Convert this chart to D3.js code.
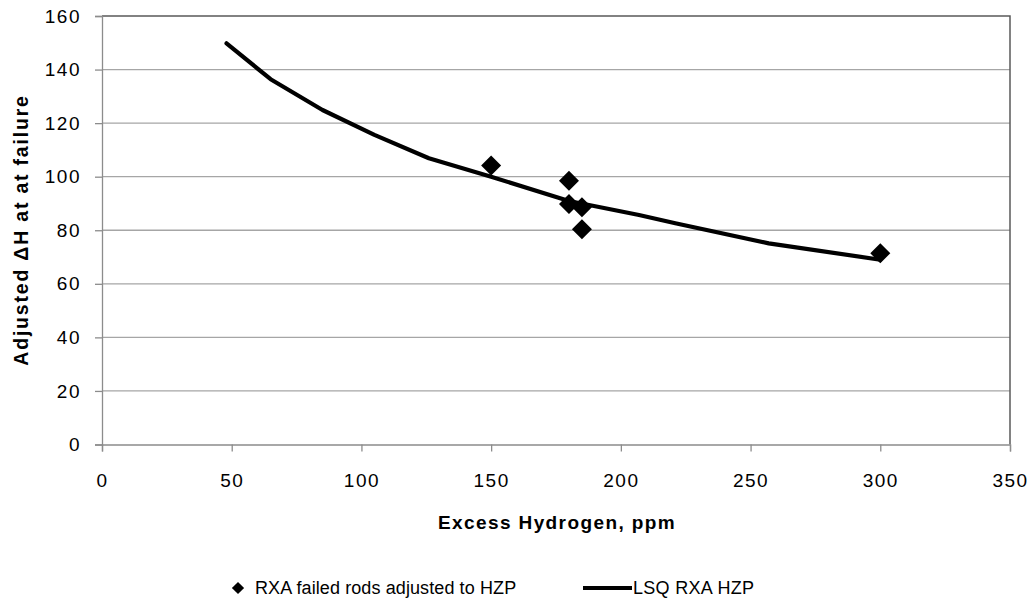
<!DOCTYPE html>
<html>
<head>
<meta charset="utf-8">
<script src="https://cdn.jsdelivr.net/npm/d3@7"></script>
<style>
  html, body { margin: 0; padding: 0; background: #fff; }
  svg { display: block; }
  text { font-family: "Liberation Sans", Arial, sans-serif; fill: #000; }
</style>
</head>
<body>
<svg id="chart" width="1034" height="603"></svg>
<script>
// Failed rods (excess hydrogen, ppm vs adjusted ΔH at failure)
const rodH2 = [150, 180, 180, 185, 185, 300];
const rodDH = [104.2, 98.5, 89.8, 88.6, 80.4, 71.4];

// Least-squares fit curve
const fitH2 = [48, 65, 85, 105, 126, 150, 180, 207, 221, 257, 300];
const fitDH = [149.8, 136.4, 124.9, 115.6, 106.9, 100.0, 90.9, 85.7, 82.6, 75.1, 69.0];

const xTicks = [0, 50, 100, 150, 200, 250, 300, 350];
const yTicks = [0, 20, 40, 60, 80, 100, 120, 140, 160];

const xTitle = "Excess Hydrogen, ppm";
const yTitle = "Adjusted \u0394H at at failure";
const legendNames = ["RXA failed rods adjusted to HZP", "LSQ RXA HZP"];

const svg = d3.select("#chart");
const plotL = 102, plotR = 1010, plotT = 16, plotB = 444.5;

const x = d3.scaleLinear().domain([0, 350]).range([plotL, plotR]);
const y = d3.scaleLinear().domain([0, 160]).range([plotB, plotT]);

// horizontal gridlines
svg.append("g").selectAll("line")
  .data(yTicks.filter(v => v > 0 && v < 160))
  .join("line")
  .attr("x1", plotL).attr("x2", plotR)
  .attr("y1", d => y(d)).attr("y2", d => y(d))
  .attr("stroke", "#a6a6a6").attr("stroke-width", 1.3);

// plot frame (top and right)
svg.append("path")
  .attr("d", `M${plotL},${plotT}H${plotR}V${plotB}`)
  .attr("fill", "none").attr("stroke", "#595959").attr("stroke-width", 1.5);

// axes
const xAxis = svg.append("g")
  .attr("transform", `translate(0,${plotB})`)
  .call(d3.axisBottom(x).tickValues(xTicks).tickSize(7).tickPadding(22));
const yAxis = svg.append("g")
  .attr("transform", `translate(${plotL},0)`)
  .call(d3.axisLeft(y).tickValues(yTicks).tickSize(7).tickPadding(14));

[xAxis, yAxis].forEach(g => {
  g.select(".domain").attr("stroke", "#8c8c8c").attr("stroke-width", 1.3);
  g.selectAll(".tick line").attr("stroke", "#8c8c8c").attr("stroke-width", 1.3);
  g.selectAll(".tick text")
    .attr("font-family", "Liberation Sans, Arial, sans-serif")
    .attr("font-size", 19).attr("fill", "#000")
    .attr("letter-spacing", 1.5);
});

// fit curve
const fitPts = fitH2.map((h, i) => [h, fitDH[i]]);
svg.append("path")
  .datum(fitPts)
  .attr("d", d3.line().x(d => x(d[0])).y(d => y(d[1])).curve(d3.curveLinear))
  .attr("fill", "none").attr("stroke", "#000")
  .attr("stroke-width", 4.2).attr("stroke-linejoin", "round").attr("stroke-linecap", "round");

// diamond markers
const diamond = d3.symbol(d3.symbolSquare, 200);
svg.append("g").selectAll("path")
  .data(rodH2.map((h, i) => [h, rodDH[i]]))
  .join("path")
  .attr("d", diamond)
  .attr("transform", d => `translate(${x(d[0])},${y(d[1])}) rotate(45)`)
  .attr("fill", "#000");

// axis titles
svg.append("text")
  .attr("x", 557).attr("y", 529)
  .attr("text-anchor", "middle")
  .attr("font-size", 19).attr("font-weight", "bold")
  .attr("letter-spacing", 1.4)
  .text(xTitle);

svg.append("text")
  .attr("transform", `translate(28,230) rotate(-90)`)
  .attr("text-anchor", "middle")
  .attr("font-size", 19.5).attr("font-weight", "bold")
  .attr("letter-spacing", 1.8)
  .text(yTitle);

// legend
const ly = 588;
svg.append("path")
  .attr("d", d3.symbol(d3.symbolSquare, 75))
  .attr("transform", `translate(238,${ly}) rotate(45)`)
  .attr("fill", "#000");
svg.append("text")
  .attr("x", 255).attr("y", ly).attr("dy", "0.36em")
  .attr("font-size", 18).attr("letter-spacing", 0.1)
  .text(legendNames[0]);
svg.append("line")
  .attr("x1", 583).attr("x2", 632).attr("y1", ly).attr("y2", ly)
  .attr("stroke", "#000").attr("stroke-width", 4);
svg.append("text")
  .attr("x", 633).attr("y", ly).attr("dy", "0.36em")
  .attr("font-size", 18).attr("letter-spacing", 0.3)
  .text(legendNames[1]);
</script>
</body>
</html>
